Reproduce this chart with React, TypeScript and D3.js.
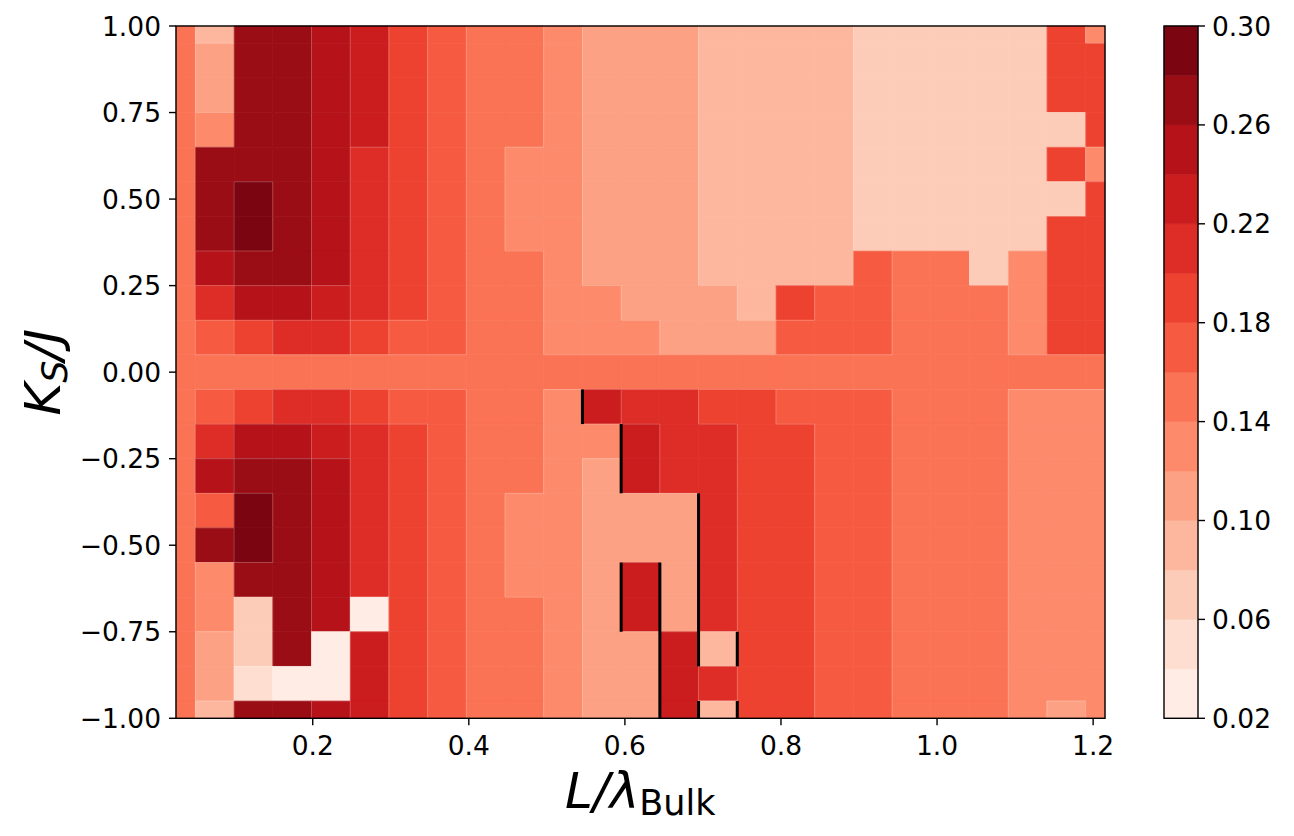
import React from 'react';
import * as d3 from 'd3';

// L / lambda_Bulk at the cell centres (columns)
const xCenters = [
  0.0248, 0.0744, 0.124, 0.1736, 0.2232, 0.2728, 0.3224, 0.372, 0.4216, 0.4712,
  0.5208, 0.5704, 0.62, 0.6696, 0.7192, 0.7688, 0.8184, 0.868, 0.9176, 0.9672,
  1.0168, 1.0664, 1.116, 1.1656, 1.2152,
];

// K_S / J at the cell centres (rows, top to bottom)
const yCenters = [
  1.0, 0.9, 0.8, 0.7, 0.6, 0.5, 0.4, 0.3, 0.2, 0.1, 0.0,
  -0.1, -0.2, -0.3, -0.4, -0.5, -0.6, -0.7, -0.8, -0.9, -1.0,
];

// one row of values per yCenter, one value per xCenter
const gapRows: number[][] = [
  [.15,.09,.27,.27,.25,.23,.19,.17,.15,.15,.13,.11,.11,.11,.09,.09,.09,.09,.07,.07,.07,.07,.07,.19,.13],
  [.15,.11,.27,.27,.25,.23,.19,.17,.15,.15,.13,.11,.11,.11,.09,.09,.09,.09,.07,.07,.07,.07,.07,.19,.19],
  [.15,.11,.27,.27,.25,.23,.19,.17,.15,.15,.13,.11,.11,.11,.09,.09,.09,.09,.07,.07,.07,.07,.07,.19,.19],
  [.15,.13,.27,.27,.25,.23,.19,.17,.15,.15,.13,.11,.11,.11,.09,.09,.09,.09,.07,.07,.07,.07,.07,.07,.19],
  [.15,.27,.27,.27,.25,.21,.19,.17,.15,.13,.13,.11,.11,.11,.09,.09,.09,.09,.07,.07,.07,.07,.07,.19,.13],
  [.15,.27,.29,.27,.25,.21,.19,.17,.15,.13,.13,.11,.11,.11,.09,.09,.09,.09,.07,.07,.07,.07,.07,.07,.19],
  [.15,.27,.29,.27,.25,.21,.19,.17,.15,.13,.13,.11,.11,.11,.09,.09,.09,.09,.07,.07,.07,.07,.07,.19,.19],
  [.15,.25,.27,.27,.25,.21,.19,.17,.15,.15,.13,.11,.11,.11,.09,.09,.09,.09,.17,.15,.15,.07,.13,.19,.19],
  [.15,.21,.25,.25,.23,.21,.19,.17,.15,.15,.13,.13,.11,.11,.11,.09,.19,.17,.17,.15,.15,.15,.13,.19,.19],
  [.15,.17,.19,.21,.21,.19,.17,.17,.15,.15,.13,.13,.13,.11,.11,.11,.17,.17,.17,.15,.15,.15,.13,.19,.19],
  [.15,.15,.15,.15,.15,.15,.15,.15,.15,.15,.15,.15,.15,.15,.15,.15,.15,.15,.15,.15,.15,.15,.15,.15,.15],
  [.15,.17,.19,.21,.21,.19,.17,.17,.15,.15,.13,.23,.21,.21,.19,.19,.17,.17,.17,.15,.15,.15,.13,.13,.13],
  [.15,.21,.25,.25,.23,.21,.19,.17,.15,.15,.13,.13,.23,.21,.21,.19,.19,.17,.17,.15,.15,.15,.13,.13,.13],
  [.15,.25,.27,.27,.25,.21,.19,.17,.15,.15,.13,.11,.23,.21,.21,.19,.19,.17,.17,.15,.15,.15,.13,.13,.13],
  [.15,.17,.29,.27,.25,.21,.19,.17,.15,.13,.13,.11,.11,.11,.21,.19,.19,.17,.17,.15,.15,.15,.13,.13,.13],
  [.15,.27,.29,.27,.25,.21,.19,.17,.15,.13,.13,.11,.11,.11,.21,.19,.19,.17,.17,.15,.15,.15,.13,.13,.13],
  [.15,.13,.27,.27,.25,.21,.19,.17,.15,.13,.13,.11,.23,.11,.21,.19,.19,.17,.17,.15,.15,.15,.13,.13,.13],
  [.15,.13,.07,.27,.25,.03,.19,.17,.15,.15,.13,.11,.23,.11,.21,.19,.19,.17,.17,.15,.15,.15,.13,.13,.13],
  [.15,.11,.07,.27,.03,.23,.19,.17,.15,.15,.13,.11,.11,.23,.09,.19,.19,.17,.17,.15,.15,.15,.13,.13,.13],
  [.15,.11,.05,.03,.03,.23,.19,.17,.15,.15,.13,.11,.11,.23,.21,.19,.19,.17,.17,.15,.15,.15,.13,.13,.13],
  [.15,.09,.27,.27,.25,.23,.19,.17,.15,.15,.13,.11,.11,.23,.09,.19,.19,.17,.17,.15,.15,.15,.13,.11,.13],
];

const levels = [0.02, 0.04, 0.06, 0.08, 0.1, 0.12, 0.14, 0.16, 0.18, 0.2, 0.22, 0.24, 0.26, 0.28, 0.3];
const xTicks = [0.2, 0.4, 0.6, 0.8, 1.0, 1.2];
const yTicks = [1.0, 0.75, 0.5, 0.25, 0.0, -0.25, -0.5, -0.75, -1.0];
const cbTicks = [0.02, 0.06, 0.1, 0.14, 0.18, 0.22, 0.26, 0.3];

// black boundary segments, in data units
const boundarySegments = [
  { x: 0.5456, y0: -0.05, y1: -0.15 },
  { x: 0.5952, y0: -0.15, y1: -0.35 },
  { x: 0.5952, y0: -0.55, y1: -0.75 },
  { x: 0.6448, y0: -0.55, y1: -1.0 },
  { x: 0.6944, y0: -0.35, y1: -0.85 },
  { x: 0.6944, y0: -0.95, y1: -1.0 },
  { x: 0.744, y0: -0.75, y1: -0.85 },
  { x: 0.744, y0: -0.95, y1: -1.0 },
];

const W = 1294;
const H = 836;
const plot = { left: 176, right: 1105, top: 26, bottom: 718.3 };
const cb = { left: 1164, right: 1198 };
const FONT = 'DejaVu Sans, sans-serif';
const TICK_FS = 26.5;

const bandColors = d3.range(levels.length - 1).map(i => d3.interpolateReds(0.05 + i * 0.07));

const fmt2 = (v: number) => (v < 0 ? '\u2212' : '') + Math.abs(v).toFixed(2);

export default function App() {
  const x = d3.scaleLinear().domain([xCenters[0], xCenters[xCenters.length - 1]]).range([plot.left, plot.right]);
  const y = d3.scaleLinear().domain([-1, 1]).range([plot.bottom, plot.top]);
  const color = d3.scaleThreshold<number, string>().domain(levels.slice(1, -1)).range(bandColors);
  const cbY = d3.scaleLinear().domain([levels[0], levels[levels.length - 1]]).range([plot.bottom, plot.top]);

  const xEdge = (c: number, side: number) => {
    const j = c + side;
    if (j < 0 || j >= xCenters.length) return xCenters[c];
    return (xCenters[c] + xCenters[j]) / 2;
  };
  const yEdge = (r: number, side: number) => {
    const j = r + side;
    if (j < 0 || j >= yCenters.length) return yCenters[r];
    return (yCenters[r] + yCenters[j]) / 2;
  };

  const cells: JSX.Element[] = [];
  const seams: JSX.Element[] = [];
  gapRows.forEach((row, r) => {
    row.forEach((v, c) => {
      const x0 = x(xEdge(c, -1));
      const x1 = x(xEdge(c, 1));
      const y0 = y(yEdge(r, -1));
      const y1 = y(yEdge(r, 1));
      const fill = color(v);
      cells.push(
        <rect key={`c${r}-${c}`} x={x0} y={y0} width={x1 - x0} height={y1 - y0}
          fill={fill} stroke={fill} strokeWidth={0.6} />
      );
      if (c < row.length - 1 && color(row[c + 1]) !== fill) {
        seams.push(<line key={`sv${r}-${c}`} x1={x1} x2={x1} y1={y0} y2={y1}
          stroke="#fff" strokeOpacity={0.22} strokeWidth={1} />);
      }
      if (r < gapRows.length - 1 && color(gapRows[r + 1][c]) !== fill) {
        seams.push(<line key={`sh${r}-${c}`} x1={x0} x2={x1} y1={y1} y2={y1}
          stroke="#fff" strokeOpacity={0.22} strokeWidth={1} />);
      }
    });
  });

  return (
    <div style={{ position: 'absolute', left: 0, top: 0 }}>
      <svg width={W} height={H} style={{ display: 'block', background: '#fff' }} fontFamily={FONT}>
        <g>{cells}</g>
        <g>{seams}</g>

        {boundarySegments.map((s, i) => (
          <line key={`b${i}`} x1={x(s.x)} x2={x(s.x)} y1={y(s.y0)} y2={y(s.y1)}
            stroke="#000" strokeWidth={3} />
        ))}

        <rect x={plot.left} y={plot.top} width={plot.right - plot.left} height={plot.bottom - plot.top}
          fill="none" stroke="#000" strokeWidth={1.4} />

        {yTicks.map(t => (
          <g key={`yt${t}`}>
            <line x1={plot.left - 7} x2={plot.left} y1={y(t)} y2={y(t)} stroke="#000" strokeWidth={1.4} />
            <text x={plot.left - 15} y={y(t)} textAnchor="end" dominantBaseline="central" fontSize={TICK_FS}>
              {fmt2(t)}
            </text>
          </g>
        ))}

        {xTicks.map(t => (
          <g key={`xt${t}`}>
            <line x1={x(t)} x2={x(t)} y1={plot.bottom} y2={plot.bottom + 7} stroke="#000" strokeWidth={1.4} />
            <text x={x(t)} y={plot.bottom + 27} textAnchor="middle" dominantBaseline="central" fontSize={TICK_FS}>
              {t.toFixed(1)}
            </text>
          </g>
        ))}

        <text x={565} y={808} fontSize={50} fontStyle="italic">
          L/λ<tspan fontStyle="normal" fontSize={35} dy={7}>Bulk</tspan>
        </text>

        <text transform={`translate(60,${(plot.top + plot.bottom) / 2}) rotate(-90)`} textAnchor="middle"
          fontSize={50} fontStyle="italic">
          K<tspan fontSize={35} dy={7}>S</tspan><tspan dy={-7}>/J</tspan>
        </text>

        {bandColors.map((c, i) => (
          <rect key={`cb${i}`} x={cb.left} y={cbY(levels[i + 1])} width={cb.right - cb.left}
            height={cbY(levels[i]) - cbY(levels[i + 1])} fill={c} stroke={c} strokeWidth={0.5} />
        ))}
        <rect x={cb.left} y={plot.top} width={cb.right - cb.left} height={plot.bottom - plot.top}
          fill="none" stroke="#000" strokeWidth={1.4} />
        {cbTicks.map(t => (
          <g key={`cbt${t}`}>
            <line x1={cb.right} x2={cb.right + 7} y1={cbY(t)} y2={cbY(t)} stroke="#000" strokeWidth={1.4} />
            <text x={cb.right + 14} y={cbY(t)} dominantBaseline="central" fontSize={TICK_FS}>
              {t.toFixed(2)}
            </text>
          </g>
        ))}
      </svg>
    </div>
  );
}
